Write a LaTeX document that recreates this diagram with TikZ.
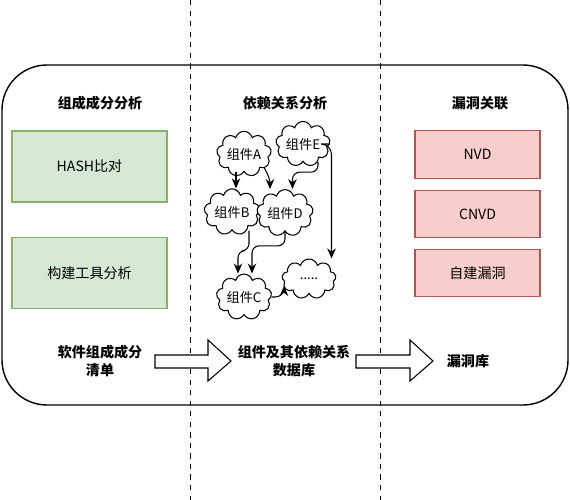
\documentclass[tikz,border=0pt]{standalone}
\usepackage{fontspec}
\setmainfont{Noto Sans CJK SC}
\usepackage{tikz}
\usetikzlibrary{arrows.meta,positioning,shapes.symbols,calc}
\definecolor{boxgreen}{HTML}{D5E8D4}
\definecolor{edgegreen}{HTML}{82B366}
\definecolor{boxred}{HTML}{F8CECC}
\definecolor{edgered}{HTML}{B85450}

\begin{document}
\begin{tikzpicture}[>={Stealth[length=2mm,width=1.7mm]}, line width=0.6pt,
  head/.style={font=\fontsize{8}{10}\selectfont\bfseries, align=center},
  greenbox/.style={draw=edgegreen, fill=boxgreen, minimum width=3.1cm, minimum height=1.42cm, font=\fontsize{8}{10}\selectfont},
  redbox/.style={draw=edgered, fill=boxred, minimum width=2.5cm, minimum height=0.95cm, font=\fontsize{8}{10}\selectfont},
  comp/.style={draw, fill=white, cloud, cloud puffs=9, aspect=1.4, inner sep=0pt, minimum width=1.08cm, minimum height=0.8cm, font=\fontsize{7.5}{9}\selectfont},
  blockarrow/.style={draw, fill=white, line width=0.6pt}]
\useasboundingbox (0,0) rectangle (11.4,-10);
% outer frame and column separators
\draw[line width=0.8pt, rounded corners=0.9cm] (0.04,-1.30) rectangle (11.36,-8.10);
\draw[dashed, line width=0.5pt] (3.8,0) -- (3.8,-10);
\draw[dashed, line width=0.5pt] (7.6,0) -- (7.6,-10);

% column titles
\node[head] (sca)  at (2.0,-2.06) {组成成分分析};
\node[head] (dep)  at (5.7,-2.06) {依赖关系分析};
\node[head] (vuln) at (9.6,-2.06) {漏洞关联};

% composition analysis
\node[greenbox] (hash)  at (1.79,-3.33) {HASH比对};
\node[greenbox] (build) at (1.79,-5.46) {构建工具分析};

% dependency graph
\node[comp] (A)    at (4.88,-3.08) {组件A};
\node[comp] (E)    at (6.06,-2.88) {组件E};
\node[comp] (B)    at (4.64,-4.24) {组件B};
\node[comp] (D)    at (5.70,-4.26) {组件D};
\node[comp] (C)    at (4.88,-5.94) {组件C};
\node[comp] (more) at (6.18,-5.58) {.....};
\draw[->] ([xshift=-1.6mm]A.south) -- ([xshift=-1.6mm]A.south |- B.north);
\draw[->] ([xshift=4mm,yshift=1mm]A.south) to[out=-60,in=90] ([xshift=-3mm]D.north);
\draw[->, rounded corners=4pt] ([xshift=3mm]E.south) -- ++(0,-0.2) -| ([xshift=1.5mm]D.north);
\draw[->, rounded corners=6pt] (E.east) -| ([xshift=4.5mm]more.north);
\draw[->, rounded corners=4pt] ([xshift=3.4mm]B.south) -- ++(0,-0.4) -| ([xshift=-1.2mm]C.north);
\draw[->, rounded corners=4pt] (D.south) -- ++(0,-0.28) -| ([xshift=1.6mm]C.north);
\draw[->, rounded corners=5pt] (C.east) -| ([xshift=0.4mm,yshift=-1.4mm]more.west);

% vulnerability sources
\node[redbox] (nvd)  at (9.55,-3.09) {NVD};
\node[redbox] (cnvd) at (9.55,-4.28) {CNVD};
\node[redbox] (own)  at (9.55,-5.46) {自建漏洞};

% outputs
\node[head] (bom) at (2.0,-7.22)  {软件组成成分\\清单};
\node[head] (db)  at (5.88,-7.22) {组件及其依赖关系\\数据库};
\node[head] (lib) at (9.36,-7.22) {漏洞库};
\draw[blockarrow] (3.10,-7.10) -- (4.16,-7.10) -- (4.16,-6.80) -- (4.62,-7.22)
  -- (4.16,-7.62) -- (4.16,-7.36) -- (3.10,-7.36) -- cycle;
\draw[blockarrow] (7.12,-7.10) -- (8.20,-7.10) -- (8.20,-6.80) -- (8.66,-7.22)
  -- (8.20,-7.62) -- (8.20,-7.36) -- (7.12,-7.36) -- cycle;
\end{tikzpicture}
\end{document}
